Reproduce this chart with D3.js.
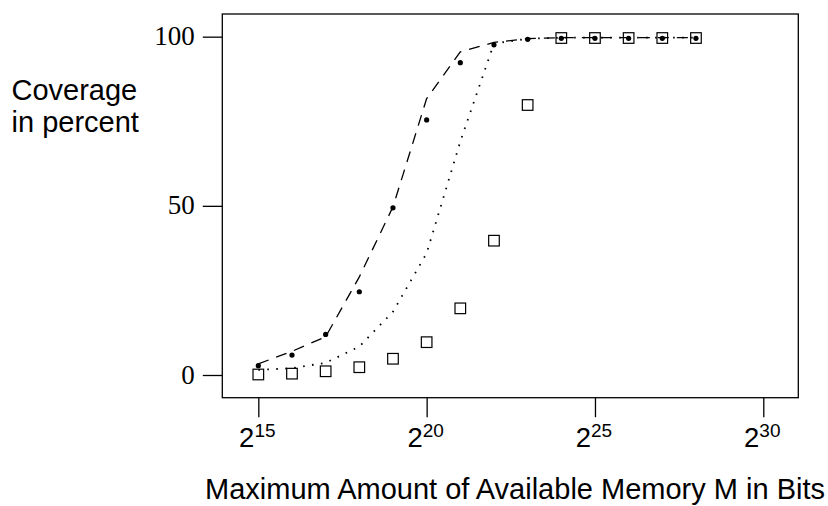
<!DOCTYPE html>
<html>
<head>
<meta charset="utf-8">
<script src="https://cdn.jsdelivr.net/npm/d3@7"></script>
<style>
  body { margin: 0; background: #fff; }
</style>
</head>
<body>
<div id="chart"></div>
<script>
// exponents of the memory size (bits = 2^e)
var exponents = [15, 16, 17, 18, 19, 20, 21, 22, 23, 24, 25, 26, 27, 28];
var tickExponents = [15, 20, 25, 30];
var yTicks = [0, 50, 100];

// measured coverage (filled dots) and its model (dashed)
var dotValues = [2.75, 5.9, 12.0, 24.6, 49.4, 75.4, 92.3, 97.6, 99.2, 99.5, 99.5, 99.5, 99.5, 99.5];
var dashedValues = [3.3, 7.0, 11.3, 29.0, 49.7, 81.7, 95.5, 98.3, 99.4, 99.7, 99.7, 99.7, 99.7, 99.7];

// measured coverage (open squares) and its model (dotted)
var squareValues = [0.15, 0.4, 1.1, 2.3, 4.8, 9.7, 19.7, 39.7, 79.8, 99.6, 99.6, 99.6, 99.6, 99.6];
var dottedValues = [1.5, 2.0, 3.6, 8.4, 18.7, 36.0, 69.0, 98.0, 99.4, 99.7, 99.7, 99.7, 99.7, 99.7];

var width = 828, height = 506;
var frame = {left: 222.3, right: 798.3, top: 14, bottom: 397.7};

var svg = d3.select("#chart")
	.append("svg")
	.attr("width", width)
	.attr("height", height);

var x = d3.scaleLog()
	.base(2)
	.domain([Math.pow(2, 13.93), Math.pow(2, 31.04)])
	.range([frame.left, frame.right]);

var y = d3.scaleLinear()
	.domain([-6.71, 106.7])
	.range([frame.bottom, frame.top]);

// frame
svg.append("rect")
	.attr("x", frame.left)
	.attr("y", frame.top)
	.attr("width", frame.right - frame.left)
	.attr("height", frame.bottom - frame.top)
	.style("fill", "none")
	.style("stroke", "#000")
	.style("stroke-width", "1.3px");

// y axis
var yAxis = svg.append("g")
	.attr("transform", "translate(" + frame.left + ",0)")
	.call(d3.axisLeft(y).tickValues(yTicks).tickSize(19.5).tickPadding(8));
yAxis.select(".domain").remove();
yAxis.selectAll("line").style("stroke", "#000").style("stroke-width", "1.3px");
yAxis.selectAll("text")
	.attr("dy", "0.3em")
	.style("font", "27px 'Liberation Serif', 'Times New Roman', serif")
	.style("fill", "#000");

// x axis, labels as powers of two
var xAxis = svg.append("g")
	.attr("transform", "translate(0," + frame.bottom + ")")
	.call(d3.axisBottom(x)
		.tickValues(tickExponents.map(function(e) { return Math.pow(2, e); }))
		.tickSize(19.5)
		.tickFormat(""));
xAxis.select(".domain").remove();
xAxis.selectAll("line").style("stroke", "#000").style("stroke-width", "1.3px");
xAxis.selectAll(".tick").each(function(d, i) {
	var t = d3.select(this).select("text")
		.attr("y", 49)
		.attr("dy", null)
		.attr("x", -1.5)
		.style("font-family", "'Liberation Sans', Arial, sans-serif")
		.style("fill", "#000");
	t.append("tspan").style("font-size", "27.5px").text("2");
	t.append("tspan").style("font-size", "19px").attr("dy", -9.5).text(tickExponents[i]);
});

// models
var modelLine = d3.line()
	.x(function(d, i) { return x(Math.pow(2, exponents[i])); })
	.y(function(d) { return y(d); });

svg.append("path")
	.datum(dashedValues)
	.attr("d", modelLine)
	.style("fill", "none")
	.style("stroke", "#000")
	.style("stroke-width", "1.3px")
	.style("stroke-dasharray", "11,8");

svg.append("path")
	.datum(dottedValues)
	.attr("d", modelLine)
	.style("fill", "none")
	.style("stroke", "#000")
	.style("stroke-width", "1.8px")
	.style("stroke-dasharray", "1.6,7.4");

// squares
svg.selectAll(".square")
	.data(squareValues)
	.enter().append("rect")
	.attr("class", "square")
	.attr("x", function(d, i) { return x(Math.pow(2, exponents[i])) - 5.3; })
	.attr("y", function(d) { return y(d) - 5.3; })
	.attr("width", 10.6)
	.attr("height", 10.6)
	.style("fill", "none")
	.style("stroke", "#000")
	.style("stroke-width", "1.2px");

// dots
svg.selectAll(".dot")
	.data(dotValues)
	.enter().append("circle")
	.attr("class", "dot")
	.attr("cx", function(d, i) { return x(Math.pow(2, exponents[i])); })
	.attr("cy", function(d) { return y(d); })
	.attr("r", 2.6)
	.style("fill", "#000");

// axis titles
var sans = "'Liberation Sans', Arial, sans-serif";
svg.append("text")
	.attr("x", 11.5).attr("y", 100)
	.style("font", "29px " + sans)
	.text("Coverage");
svg.append("text")
	.attr("x", 11.5).attr("y", 131.7)
	.style("font", "29px " + sans)
	.text("in percent");
svg.append("text")
	.attr("x", 515).attr("y", 499)
	.attr("text-anchor", "middle")
	.style("font", "29px " + sans)
	.text("Maximum Amount of Available Memory M in Bits");
</script>
</body>
</html>
